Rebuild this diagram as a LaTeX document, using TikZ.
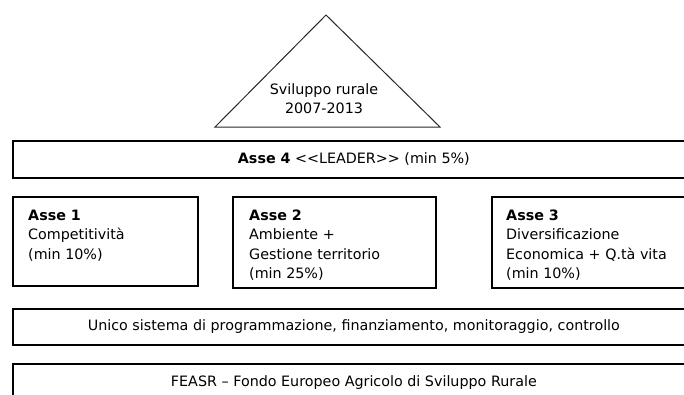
\documentclass[tikz,border=0pt]{standalone}
\usepackage{fontspec}
\newfontfamily\dv{DejaVu Sans}
\definecolor{triline}{RGB}{40,40,40}
\begin{document}
\begin{tikzpicture}[x=1pt,y=-1pt,
  every node/.style={font=\dv\fontsize{14.3}{18.8}\selectfont, text=black},
  box/.style={draw=black, line width=1.7pt, inner sep=0pt, anchor=north west},
  lbl/.style={anchor=north west, inner sep=0pt, align=left, font=\dv\fontsize{14.3}{19.4}\selectfont},
  tri/.style={draw=triline, line width=1pt, line join=miter}]
\useasboundingbox (0,0) rectangle (684,394);
\clip (0,0) rectangle (684,394);
% triangle
\coordinate (apex) at (326,15);
\coordinate (bl) at (215,127);
\coordinate (br) at (440,127);
\draw[tri] (apex) -- (br) -- (bl) -- cycle;
\node[align=center, inner sep=0pt] (sr) at (324,98.5) {Sviluppo rurale\\2007-2013};
% Asse 4
\node[box, minimum width=682pt, minimum height=37pt] (a4) at (12,140) {\textbf{Asse 4} <<LEADER>> (min 5\%)};
% Asse 1-3
\node[box, minimum width=185pt, minimum height=89pt] (a1) at (12,196) {};
\node[box, minimum width=203pt, minimum height=91pt] (a2) at (232,196) {};
\node[box, minimum width=250pt, minimum height=91pt] (a3) at (491,196) {};
\node[lbl] (a1t) at (28,209.6) {\textbf{Asse 1}\\Competitività\\(min 10\%)};
\node[lbl] (a2t) at (249,209.6) {\textbf{Asse 2}\\Ambiente +\\Gestione territorio\\(min 25\%)};
\node[lbl] (a3t) at (506,209.6) {\textbf{Asse 3}\\Diversificazione\\Economica + Q.tà vita\\(min 10\%)};
% bottom rows
\node[box, minimum width=682pt, minimum height=36pt] (un) at (12,308) {Unico sistema di programmazione, finanziamento, monitoraggio, controllo};
\node[box, minimum width=682pt, minimum height=37pt] (fe) at (12,363) {FEASR – Fondo Europeo Agricolo di Sviluppo Rurale};
\end{tikzpicture}
\end{document}
